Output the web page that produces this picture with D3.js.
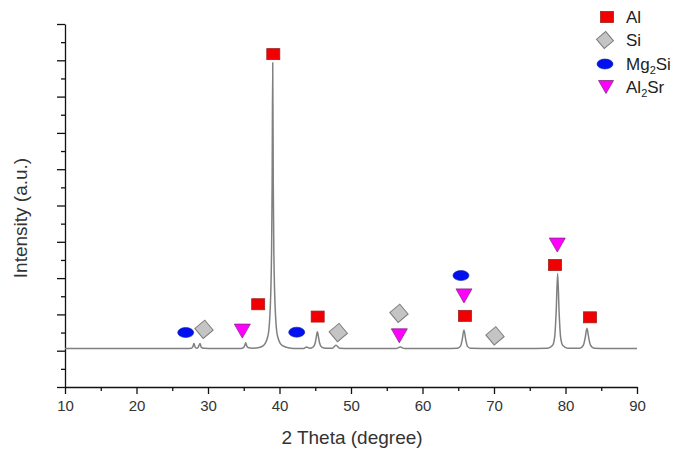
<!DOCTYPE html>
<html>
<head>
<meta charset="utf-8">
<script src="https://cdn.jsdelivr.net/npm/d3@7"></script>
<style>
  html, body { margin: 0; padding: 0; background: #fff; }
  svg { display: block; }
  text { font-family: "Liberation Sans", Arial, sans-serif; }
</style>
</head>
<body>
<svg id="chart" width="680" height="452"></svg>
<script>
// ---- data ----
const twoTheta = [10,14,18,22,25,27.0,27.7,27.9,28.04,28.2,28.4,28.6,28.75,28.88,29.05,29.4,31,33,34.6,35.0,35.15,35.27,35.4,35.6,36.2,37.0,37.7,38.0,38.3,38.5,38.65,38.78,38.9,38.97,39.05,39.13,39.2,39.32,39.45,39.6,39.8,40.1,40.5,41.2,42.0,43.3,43.8,44.2,44.7,45.0,45.15,45.3,45.45,45.6,45.9,46.5,47.4,47.9,48.4,50,53,56.3,56.9,57.5,60,63,64.9,65.3,65.55,65.8,66.05,66.3,66.7,70,74,77.5,78.2,78.5,78.7,78.9,79.1,79.3,79.6,80.3,82.0,82.5,82.75,83.0,83.25,83.5,84.0,86,90];
const intensity = [1.06,1.06,1.06,1.06,1.06,1.06,1.07,1.12,1.2,1.1,1.07,1.09,1.15,1.2,1.1,1.07,1.06,1.06,1.06,1.09,1.15,1.22,1.14,1.09,1.07,1.08,1.13,1.2,1.35,1.55,1.95,2.6,3.9,5.6,8.93,5.6,3.9,2.6,1.95,1.55,1.35,1.2,1.13,1.08,1.06,1.06,1.1,1.07,1.1,1.22,1.38,1.52,1.38,1.22,1.1,1.07,1.07,1.15,1.07,1.06,1.06,1.06,1.1,1.06,1.06,1.06,1.07,1.12,1.3,1.57,1.3,1.12,1.07,1.06,1.06,1.07,1.15,1.4,2.1,3.13,2.1,1.4,1.15,1.07,1.07,1.15,1.35,1.62,1.35,1.15,1.07,1.06,1.06];

// phase markers: [2theta, intensity position]
const alMarks    = [[39.13,9.17],[37.02,2.28],[45.34,1.94],[65.94,1.96],[78.53,3.36],[83.43,1.92]];
const siMarks    = [[29.44,1.59],[48.22,1.50],[56.71,2.03],[70.14,1.41]];
const mg2siMarks = [[26.88,1.50],[42.41,1.51],[65.38,3.07]];
const al2srMarks = [[34.80,1.54],[56.76,1.41],[65.80,2.51],[78.85,3.91]];

const xTicks = [10,20,30,40,50,60,70,80,90];
const xMinorTicks = [15,25,35,45,55,65,75,85];
const yTicks = [0,1,2,3,4,5,6,7,8,9,10];
const yMinorTicks = [0.5,1.5,2.5,3.5,4.5,5.5,6.5,7.5,8.5,9.5];

const legendLabels = ["Al", "Si", "Mg2Si", "Al2Sr"];

// ---- layout ----
const svg = d3.select("#chart");
const x = d3.scaleLinear().domain([10, 90]).range([65, 637]);
const y = d3.scaleLinear().domain([0, 10]).range([387, 24]);

// axes
const gx = svg.append("g").attr("transform", `translate(0,${y(0)})`);
gx.call(d3.axisBottom(x).tickValues(xTicks).tickSize(7).tickSizeOuter(0).tickPadding(6));
const gxm = svg.append("g").attr("transform", `translate(0,${y(0)})`);
gxm.call(d3.axisBottom(x).tickValues(xMinorTicks).tickSize(4).tickFormat("").tickSizeOuter(0));
gxm.select(".domain").remove();

const gy = svg.append("g").attr("transform", `translate(${x(10)},0)`);
gy.call(d3.axisLeft(y).tickValues(yTicks).tickSize(8).tickFormat("").tickSizeOuter(0));
const gym = svg.append("g").attr("transform", `translate(${x(10)},0)`);
gym.call(d3.axisLeft(y).tickValues(yMinorTicks).tickSize(4).tickFormat("").tickSizeOuter(0));
gym.select(".domain").remove();

svg.selectAll(".domain, .tick line").attr("stroke", "#111").attr("stroke-width", 1.3);
gx.selectAll(".tick text").attr("font-size", 15).attr("fill", "#333")
  .attr("font-family", "'Liberation Sans', Arial, sans-serif");

// axis titles
svg.append("text").attr("x", 352).attr("y", 444).attr("text-anchor", "middle")
  .attr("font-size", 19).attr("fill", "#333").text("2 Theta (degree)");
svg.append("text").attr("transform", "translate(27,218) rotate(-90)").attr("text-anchor", "middle")
  .attr("font-size", 19).attr("fill", "#333").text("Intensity (a.u.)");

// curve
const pts = twoTheta.map((t, i) => [t, intensity[i]]);
svg.append("path").datum(pts)
  .attr("fill", "none").attr("stroke", "#808080").attr("stroke-width", 1.5)
  .attr("d", d3.line().x(d => x(d[0])).y(d => y(d[1])).curve(d3.curveMonotoneX));

// marker drawers
function drawSquare(g, cx, cy, w, h) {
  g.append("rect").attr("x", cx - w/2).attr("y", cy - h/2).attr("width", w).attr("height", h)
    .attr("fill", "#f00000").attr("stroke", "#a02020").attr("stroke-width", 0.8);
}
function drawDiamond(g, cx, cy, s) {
  g.append("rect").attr("x", -s/2).attr("y", -s/2).attr("width", s).attr("height", s)
    .attr("transform", `translate(${cx},${cy}) rotate(-40)`)
    .attr("fill", "#c4c4c4").attr("stroke", "#7c7c7c").attr("stroke-width", 1);
}
function drawEllipse(g, cx, cy, rx, ry) {
  g.append("ellipse").attr("cx", cx).attr("cy", cy).attr("rx", rx).attr("ry", ry)
    .attr("fill", "#0010f0").attr("stroke", "#1020a0").attr("stroke-width", 0.6);
}
function drawTriangle(g, cx, cy, w, h) {
  g.append("path").attr("d", `M${cx - w/2},${cy - h/2}L${cx + w/2},${cy - h/2}L${cx},${cy + h/2}Z`)
    .attr("fill", "#ff00ff").attr("stroke", "#803080").attr("stroke-width", 0.8);
}

const mg = svg.append("g");
alMarks.forEach(d => drawSquare(mg, x(d[0]), y(d[1]), 13, 11));
siMarks.forEach(d => drawDiamond(mg, x(d[0]), y(d[1]), 13));
mg2siMarks.forEach(d => drawEllipse(mg, x(d[0]), y(d[1]), 8, 5));
al2srMarks.forEach(d => drawTriangle(mg, x(d[0]), y(d[1]), 16, 14));

// legend
const lg = svg.append("g");
const rowY = [17, 40, 64, 87];
drawSquare(lg, 607, rowY[0], 13, 11);
drawDiamond(lg, 605, rowY[1], 12);
drawEllipse(lg, 605, rowY[2], 8, 5);
drawTriangle(lg, 606, rowY[3], 15, 13);

function legendText(row, label) {
  const t = lg.append("text").attr("x", 626).attr("y", rowY[row] + 6)
    .attr("font-size", 17).attr("fill", "#222");
  const m = label.match(/^([A-Za-z]+)(\d)(.*)$/);
  if (m) {
    t.append("tspan").text(m[1]);
    t.append("tspan").attr("font-size", 11).attr("dy", 4).text(m[2]);
    t.append("tspan").attr("dy", -4).text(m[3]);
  } else {
    t.text(label);
  }
}
legendLabels.forEach((l, i) => legendText(i, l));
</script>
</body>
</html>
